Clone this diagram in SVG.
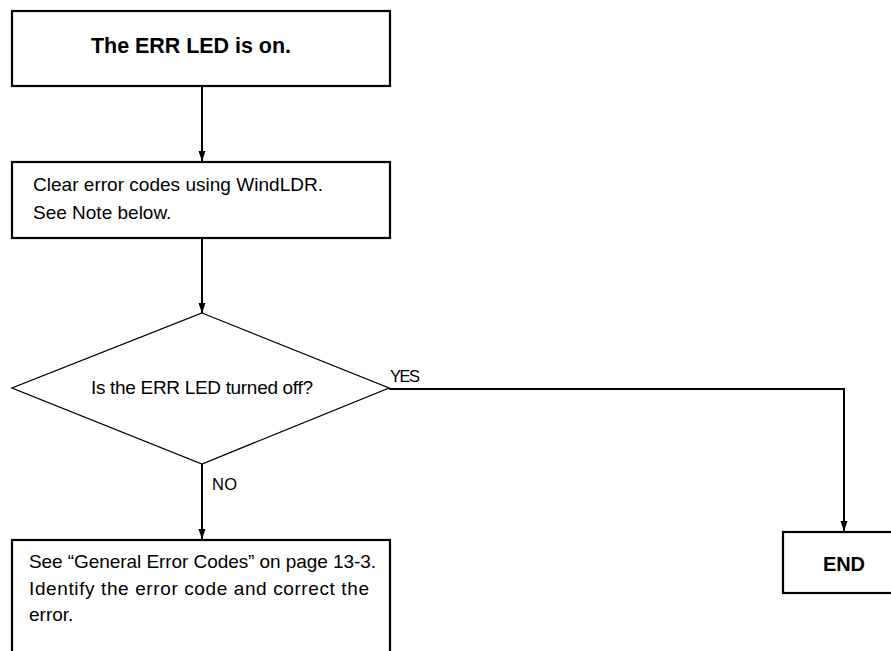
<svg xmlns="http://www.w3.org/2000/svg" width="891" height="651" viewBox="0 0 891 651">
  <defs>
    <style>
      .box { fill: #ffffff; stroke: #000000; stroke-width: 2.2; }
      .dia { fill: #ffffff; stroke: #000000; stroke-width: 1.3; }
      .conn { fill: none; stroke: #000000; stroke-width: 2; }
      .t { font-family: "Liberation Sans", Arial, sans-serif; font-size: 19px; fill: #000000; }
      .tb { font-family: "Liberation Sans", Arial, sans-serif; font-weight: bold; fill: #000000; }
      .lbl { font-family: "Liberation Sans", Arial, sans-serif; font-size: 16.5px; fill: #000000; }
    </style>
    <marker id="arr" markerUnits="userSpaceOnUse" markerWidth="10" markerHeight="14" refX="14" refY="5" orient="auto" viewBox="0 0 14 10">
      <path d="M0,0 L14,5 L0,10 Z" fill="#000000"/>
    </marker>
  </defs>
  <rect x="0" y="0" width="891" height="651" fill="#ffffff"/>

  <g id="connectors">
    <line class="conn" x1="202" y1="86" x2="202" y2="161" marker-end="url(#arr)"/>
    <line class="conn" x1="202" y1="238" x2="202" y2="313" marker-end="url(#arr)"/>
    <line class="conn" x1="202" y1="464" x2="202" y2="539" marker-end="url(#arr)"/>
    <polyline class="conn" points="389,389 844,389 844,531" marker-end="url(#arr)"/>
    <text class="lbl" x="390" y="382" textLength="30">YES</text>
    <text class="lbl" x="212" y="490" textLength="25">NO</text>
  </g>

  <g id="start">
    <rect class="box" x="12" y="11" width="378" height="75"/>
    <text class="tb" x="91" y="53" font-size="21.5" textLength="200">The ERR LED is on.</text>
  </g>

  <g id="clear">
    <rect class="box" x="12" y="162" width="378" height="76"/>
    <text class="t" x="33" y="191" textLength="290">Clear error codes using WindLDR.</text>
    <text class="t" x="33" y="219">See Note below.</text>
  </g>

  <g id="decision">
    <polygon class="dia" points="202,313 389,388 202,464 12,388"/>
    <text class="t" x="91" y="394" textLength="222">Is the ERR LED turned off?</text>
  </g>

  <g id="errorcodes">
    <rect class="box" x="12" y="540" width="378" height="130"/>
    <text class="t" x="29" y="568" textLength="347">See “General Error Codes” on page 13-3.</text>
    <text class="t" x="29" y="595" textLength="340">Identify the error code and correct the</text>
    <text class="t" x="29" y="621">error.</text>
  </g>

  <g id="end">
    <rect class="box" x="783" y="532" width="130" height="61"/>
    <text class="tb" x="823" y="571" font-size="20" textLength="42">END</text>
  </g>
</svg>
